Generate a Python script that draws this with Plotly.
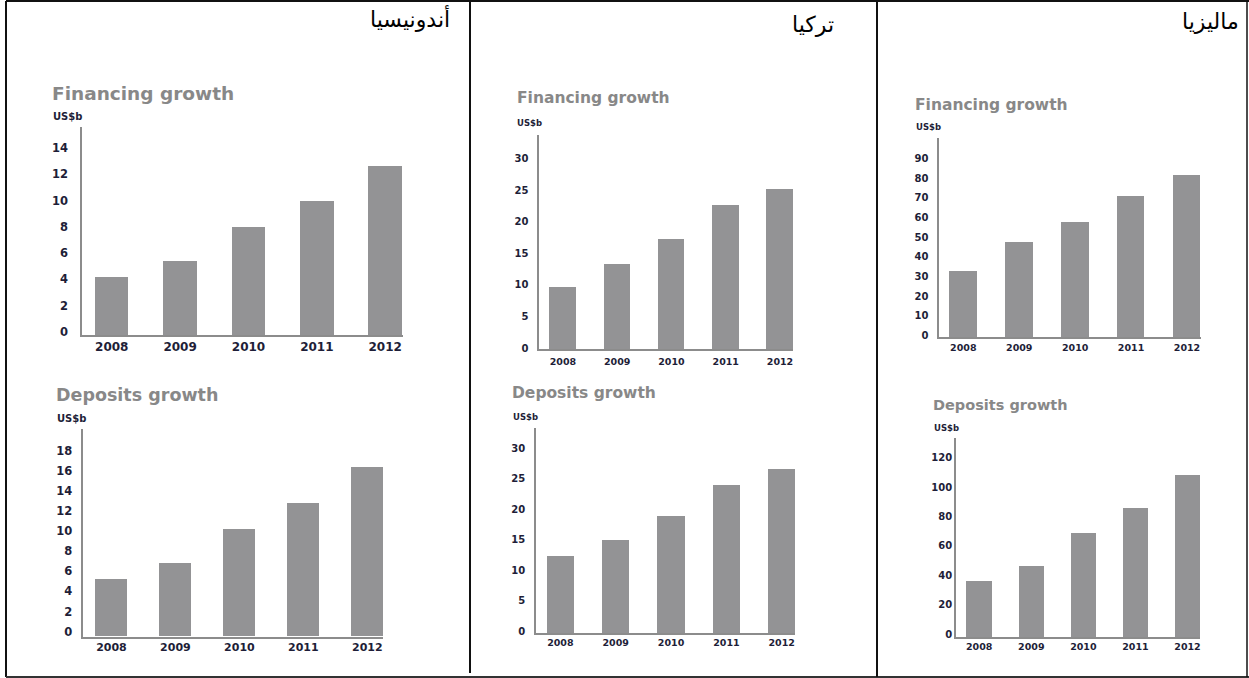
import plotly.graph_objects as go

# ---------------------------------------------------------------- data
years = ["2008", "2009", "2010", "2011", "2012"]

countries = ["أندونيسيا", "تركيا", "ماليزيا"]

indonesia_financing = [4.4, 5.6, 8.2, 10.2, 12.9]
indonesia_deposits = [5.7, 7.3, 10.7, 13.3, 16.8]
turkey_financing = [9.9, 13.4, 17.4, 22.8, 25.4]
turkey_deposits = [12.7, 15.3, 19.3, 24.4, 26.9]
malaysia_financing = [33.8, 48.2, 58.4, 72.0, 82.3]
malaysia_deposits = [37.8, 48.0, 70.7, 87.8, 110.3]

indonesia_fin_ticks = [0, 2, 4, 6, 8, 10, 12, 14]
indonesia_dep_ticks = [0, 2, 4, 6, 8, 10, 12, 14, 16, 18]
turkey_fin_ticks = [0, 5, 10, 15, 20, 25, 30]
turkey_dep_ticks = [0, 5, 10, 15, 20, 25, 30]
malaysia_fin_ticks = [0, 10, 20, 30, 40, 50, 60, 70, 80, 90]
malaysia_dep_ticks = [0, 20, 40, 60, 80, 100, 120]

FIN_TITLE = "Financing growth"
DEP_TITLE = "Deposits growth"
UNIT = "US$b"

# ---------------------------------------------------------------- styling
W, H = 1249, 678
BAR = "#939395"
AXIS = "#8c8c8c"
TITLE_GREY = "#888888"
DARK = "#1e1e38"
FONT = "DejaVu Sans"
FIGSPACE = "\u2007"


def fx(x):
    return x / W


def fy(y):
    return 1 - y / H


def padded(vals, left_align):
    """Tick texts; left-aligned columns are padded with figure spaces."""
    texts = [str(v) for v in vals]
    if not left_align:
        return texts
    n = max(len(t) for t in texts)
    return [FIGSPACE * (n - len(t)) + t for t in texts]


# one entry per small chart: values, pixel box (left, top, right, bottom),
# x range, y top, y ticks, fonts and label offsets
charts = [
    dict(vals=indonesia_financing, box=(82, 127, 403, 335), xr=(-0.435, 4.26),
         ytop=15.83, ticks=indonesia_fin_ticks, left=True, tfs=11.5, xfs=12,
         yshift=-3, ystand=10, xstand=0,
         title=FIN_TITLE, tpos=(50, 93), tsize=18.5, upos=(51, 117), usize=10),
    dict(vals=indonesia_deposits, box=(83.3, 429.3, 383.3, 636.7), xr=(-0.44, 4.25),
         ytop=20.6, ticks=indonesia_dep_ticks, left=True, tfs=11.5, xfs=11,
         yshift=-5, ystand=7, xstand=-1,
         title=DEP_TITLE, tpos=(54, 395), tsize=17.5, upos=(55, 418), usize=10),
    dict(vals=turkey_financing, box=(539.3, 135, 793.3, 349.3), xr=(-0.436, 4.245),
         ytop=33.85, ticks=turkey_fin_ticks, left=False, tfs=10, xfs=9.5,
         yshift=-1, ystand=7, xstand=2,
         title=FIN_TITLE, tpos=(514.7, 98.3), tsize=15.5, upos=(515, 123.3), usize=8.5),
    dict(vals=turkey_deposits, box=(536, 427.7, 795, 633.3), xr=(-0.44, 4.24),
         ytop=33.65, ticks=turkey_dep_ticks, left=False, tfs=10, xfs=9.5,
         yshift=-2, ystand=7, xstand=-1,
         title=DEP_TITLE, tpos=(509.7, 393.3), tsize=15.5, upos=(510.7, 416.7), usize=8.5),
    dict(vals=malaysia_financing, box=(939.3, 138.3, 1200.7, 337.3), xr=(-0.43, 4.245),
         ytop=101.4, ticks=malaysia_fin_ticks, left=True, tfs=10, xfs=9.5,
         yshift=-2, ystand=7, xstand=0,
         title=FIN_TITLE, tpos=(913, 105), tsize=15.5, upos=(914, 126.7), usize=8.5),
    dict(vals=malaysia_deposits, box=(956, 438.3, 1200, 637.3), xr=(-0.446, 4.24),
         ytop=135.2, ticks=malaysia_dep_ticks, left=True, tfs=10, xfs=9.5,
         yshift=-3, ystand=0, xstand=-1,
         title=DEP_TITLE, tpos=(931.3, 405), tsize=14.5, upos=(932.3, 428.3), usize=8.5),
]

fig = go.Figure()
layout = {}
annotations = []

for i, c in enumerate(charts, start=1):
    sfx = "" if i == 1 else str(i)
    xa, ya = "x" + sfx, "y" + sfx
    fig.add_trace(go.Bar(
        x=list(range(len(years))), y=c["vals"], width=0.49,
        marker=dict(color=BAR, line=dict(width=0)),
        xaxis=xa, yaxis=ya, showlegend=False, hoverinfo="skip",
    ))
    l, t, r, b = c["box"]
    layout["xaxis" + sfx] = dict(
        domain=[fx(l), fx(r)], anchor=ya, range=list(c["xr"]),
        tickvals=list(range(len(years))), ticktext=years,
        showline=True, linecolor=AXIS, linewidth=1.6, showgrid=False,
        zeroline=False, ticks="", ticklabelstandoff=c["xstand"],
        tickfont=dict(family=FONT, size=c["xfs"], color=DARK, weight="bold"),
        fixedrange=True, automargin=False,
    )
    layout["yaxis" + sfx] = dict(
        domain=[fy(b), fy(t)], anchor=xa, range=[0, c["ytop"]],
        tickvals=c["ticks"], ticktext=padded(c["ticks"], c["left"]),
        showline=True, linecolor=AXIS, linewidth=1.6, showgrid=False,
        zeroline=False, ticks="", ticklabelstandoff=c["ystand"],
        ticklabelshift=c["yshift"],
        tickfont=dict(family=FONT, size=c["tfs"], color=DARK, weight="bold"),
        fixedrange=True, automargin=False,
    )
    annotations.append(dict(
        text=c["title"], x=fx(c["tpos"][0]), y=fy(c["tpos"][1]),
        xref="paper", yref="paper", xanchor="left", yanchor="middle",
        showarrow=False,
        font=dict(family=FONT, size=c["tsize"], color=TITLE_GREY, weight="bold"),
    ))
    annotations.append(dict(
        text=UNIT, x=fx(c["upos"][0]), y=fy(c["upos"][1]),
        xref="paper", yref="paper", xanchor="left", yanchor="middle",
        showarrow=False,
        font=dict(family=FONT, size=c["usize"], color=DARK, weight="bold"),
    ))

# country headings, right-aligned in each column
for name, (xr, yc) in zip(countries, [(452, 18), (836, 24), (1241, 21)]):
    annotations.append(dict(
        text=name, x=fx(xr), y=fy(yc), xref="paper", yref="paper",
        xanchor="right", yanchor="middle", showarrow=False,
        font=dict(family=FONT, size=22, color="#000000"),
    ))

# table frame and column dividers
frame = [
    (6, 1, 1249, 1, "#111111", 2),
    (6, 1, 6, 677, "#111111", 2),
    (6, 677, 1249, 677, "#333333", 2),
    (1247, 1, 1247, 677, "#111111", 1.5),
    (470, 1, 470, 673, "#111111", 2),
    (877, 1, 877, 677, "#111111", 2),
]
shapes = [
    dict(type="line", xref="paper", yref="paper",
         x0=fx(x0), y0=fy(y0), x1=fx(x1), y1=fy(y1),
         line=dict(color=col, width=w))
    for x0, y0, x1, y1, col, w in frame
]

fig.update_layout(
    width=W, height=H, autosize=False,
    margin=dict(l=0, r=0, t=0, b=0, pad=0, autoexpand=False),
    paper_bgcolor="white", plot_bgcolor="white",
    annotations=annotations, shapes=shapes,
    bargap=0, **layout,
)

fig.write_html("out.html")
